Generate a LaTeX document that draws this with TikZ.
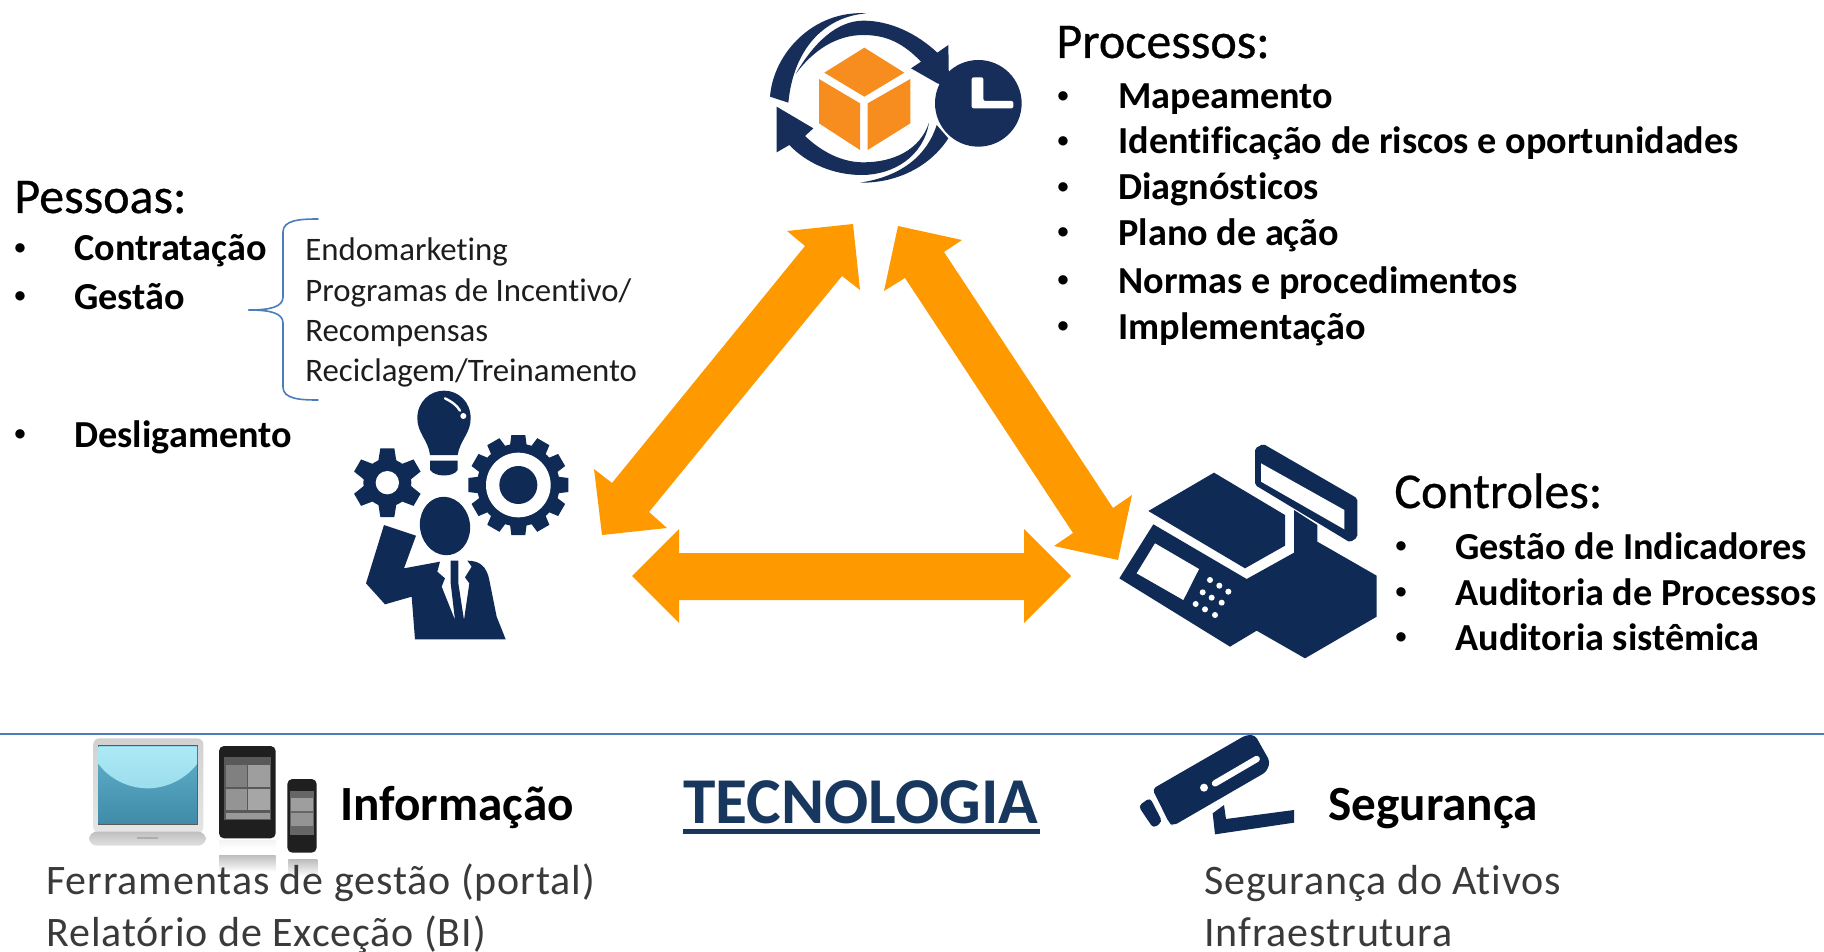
\documentclass[tikz,border=0pt]{standalone}
\usepackage{fontspec}
\setmainfont{Carlito}[Ligatures=NoCommon]
\definecolor{orangeA}{HTML}{FF9900}
\definecolor{navyA}{HTML}{0F2B55}
\definecolor{navyB}{HTML}{172E5A}
\definecolor{boxO}{HTML}{F78D1F}
\definecolor{lineB}{HTML}{4A7EBB}
\definecolor{titleB}{HTML}{17375E}
\definecolor{textG}{HTML}{3A3A3A}
\definecolor{scrTop}{HTML}{62B2CB}
\definecolor{scrBot}{HTML}{3F8BA8}
\definecolor{scrLight}{HTML}{ABE9F5}
\tikzset{
  head/.style={anchor=base west,inner sep=0pt,yshift=-0.5pt,font=\fontsize{25}{28}\selectfont\addfontfeatures{FakeBold=0.6}},
  item/.style={anchor=base west,inner sep=0pt,yshift=-1pt,font=\fontsize{19.1}{22}\selectfont\bfseries},
  dot/.style={anchor=base,inner sep=0pt,yshift=2.4pt,font=\fontsize{11}{14}\selectfont\bfseries},
  subitem/.style={anchor=base west,inner sep=0pt,yshift=-0.5pt,font=\fontsize{16.4}{20}\selectfont,text=textG!50!black},
  techhead/.style={anchor=base west,inner sep=0pt,yshift=-1pt,font=\fontsize{24.6}{28}\selectfont\bfseries},
  body/.style={anchor=base west,inner sep=0pt,yshift=-1.3pt,font=\fontsize{21}{24}\selectfont\addfontfeatures{LetterSpace=2.1},text=textG},
  bigarrow/.style={fill=orangeA,draw=none},
}
\begin{document}
\begin{tikzpicture}[x=0.5pt,y=-0.5pt]
\useasboundingbox (0,0) rectangle (1824,952);
\fill[white] (0,0) rectangle (1824,952);
\clip (0,0) rectangle (1824,952);

% big arrows
\fill[bigarrow] (853,224)--(860,290)--(842,276)--(649,512)--(667,528)--(602,535)--(594,469)--(612,483)--(805,246)--(787,231)--cycle;
\fill[bigarrow] (632,576)--(679,529)--(679,553)--(1024,553)--(1024,529)--(1071,576)--(1024,623)--(1024,600)--(679,600)--(679,623)--cycle;
\fill[bigarrow] (898,226)--(962,240)--(944,252)--(1113,508)--(1132,495)--(1118,560)--(1054,546)--(1073,533)--(905,278)--(884,291)--cycle;

% separator line
\draw[lineB,line width=1.2pt] (0,734)--(1824,734);

% process icon
\begin{scope}[shift={(730,0)},scale=1/3]
  \fill[boxO] (403,143)--(523,218)--(403,290)--(283,218)--cycle;
  \fill[boxO] (267,237)--(390,310)--(390,450)--(267,370)--cycle;
  \fill[boxO] (413,310)--(541,237)--(541,370)--(413,450)--cycle;
  \fill[navyB] (197,222) .. controls (250,130) and (320,62) .. (400,62) .. controls (480,62) and (560,100) .. (622,158) -- (655,135) -- (657,260) -- (622,250) -- (543,205) -- (573,185) .. controls (520,130) and (470,105) .. (400,105) .. controls (320,105) and (250,150) .. (197,222) -- cycle;
  \fill[navyB] (120,290) .. controls (130,160) and (250,30) .. (410,40) .. controls (280,50) and (190,150) .. (175,308) -- cycle;
  \fill[navyB] (140,320)--(250,385)--(225,408) .. controls (280,460) and (340,487) .. (400,487) .. controls (490,487) and (570,450) .. (597,368) .. controls (580,470) and (490,525) .. (395,525) .. controls (310,525) and (230,490) .. (178,435) -- (140,457) -- cycle;
  \fill[navyB] (390,548) .. controls (500,550) and (600,500) .. (655,415) -- (620,375) .. controls (590,470) and (510,530) .. (390,548) -- cycle;
  \fill[navyB] (745,310) circle (130);
  \fill[white,rounded corners=1pt] (725,232)--(760,232)--(760,303)--(850,303)--(850,325)--(725,325)--cycle;
\end{scope}

% person icon
\begin{scope}[shift={(330,370)},scale=1/3]
  % bulb
  \fill[navyA] (300,255) .. controls (295,210) and (262,190) .. (262,145) .. controls (262,95) and (300,62) .. (342,62) .. controls (385,62) and (422,95) .. (422,145) .. controls (422,190) and (390,210) .. (383,255) -- cycle;
  \fill[navyA] (300,272)--(383,272)--(383,300) .. controls (370,322) and (315,322) .. (300,300) -- cycle;
  \draw[white,line width=1.2pt,line cap=round] (345,85) .. controls (365,95) and (380,105) .. (390,122);
  \fill[white] (400,138) circle (9);
  % small gear
  \begin{scope}[shift={(172,338)}]
    \foreach \a in {0,60,...,300} \fill[navyA,rotate=\a] (-21,-103)--(21,-103)--(27,-65)--(-27,-65)--cycle;
    \fill[navyA] (0,0) circle (72);
    \fill[white] (0,0) circle (35);
  \end{scope}
  % big gear
  \begin{scope}[shift={(565,345)}]
    \foreach \a in {0,30,...,330} \fill[navyA,rotate=\a] (-21,-150)--(21,-150)--(25,-118)--(-25,-118)--cycle;
    \fill[navyA] (0,0) circle (124);
    \fill[white] (0,0) circle (97);
    \fill[navyA] (0,0) circle (57);
  \end{scope}
  % man
  \fill[navyA] (345,468) ellipse [x radius=75,y radius=88,rotate=10];
  \fill[navyA] (162,465)--(258,497)--(222,595)--(330,575)--(322,605)--(345,625)--(335,650)--(375,750)--(362,640)--(362,572)--(385,572)--(385,640)--(402,750)--(418,640)--(405,622)--(425,590)--(412,572) .. controls (450,572) and (470,590) .. (478,630) -- (500,740) -- (527,808) -- (255,808) -- (245,680) -- (165,703) -- (108,640) -- cycle;
\end{scope}

% cash register icon
\begin{scope}[shift={(1100,430)},scale=1/3]
  \fill[navyA,rounded corners=1pt] (490,42)--(772,205)--(772,322)--(750,337)--(465,165)--(465,55)--cycle;
  \fill[white] (483,100)--(733,240)--(733,298)--(483,155)--cycle;
  \fill[navyA] (582,240)--(582,368)--(440,447)--(160,283)--(58,445)--(390,650)--(470,602)--(615,685)--(830,560)--(830,437)--(652,335)--(652,285)--cycle;
  \fill[navyA] (342,128)--(555,255)--(555,347)--(435,415)--(145,243)--cycle;
  \fill[white] (165,340)--(297,417)--(250,510)--(110,430)--cycle;
  \foreach \p in {(330,450),(358,467),(385,485),(308,487),(335,503),(365,518),(287,522),(315,538),(345,555)}
    \fill[white] \p circle (9);
\end{scope}

% camera icon
\begin{scope}[shift={(1120,720)},scale=1/3]
  \fill[navyA,rounded corners=2pt] (97,207)--(378,45)--(405,45)--(450,125)--(440,155)--(160,317)--(148,310)--cycle;
  \draw[white,line width=3.2pt,line cap=round] (285,190)--(410,117);
  \fill[white] (252,203) circle (12);
  \fill[navyA,rounded corners=2pt] (55,258)--(90,233)--(127,305)--(100,325)--cycle;
  \fill[navyA] (278,280)--(312,255)--(318,297)--(522,270)--(522,308)--(285,343)--cycle;
\end{scope}

% devices
\begin{scope}[shift={(70,720)},scale=1/3]
  \shade[top color=black!18,bottom color=black!10,rounded corners=3pt] (70,55) rectangle (400,340);
  \fill[black!65] (83,76) rectangle (384,314);
  \shade[top color=scrTop,bottom color=scrBot] (86,79) rectangle (381,311);
  \shade[top color=scrLight,bottom color=scrLight!80!scrTop] (86,79)--(381,79)--(381,132) .. controls (340,185) and (280,205) .. (233,205) .. controls (180,205) and (120,180) .. (86,132) -- cycle;
  \shade[top color=black!25,bottom color=black!12,rounded corners=4pt] (57,335) rectangle (408,377);
  \fill[black!32] (200,350) rectangle (265,356);
  % tablet
  \fill[black!88,rounded corners=2.5pt] (447,78) rectangle (617,355);
  \fill[black!65] (463,112) rectangle (603,300);
  \fill[black!50] (468,135) rectangle (530,200);
  \fill[black!38] (535,135) rectangle (600,200);
  \fill[black!42] (468,208) rectangle (530,270);
  \fill[black!35] (535,208) rectangle (600,270);
  \fill[black!40] (468,278) rectangle (600,298);
  \shade[top color=black!26,bottom color=white] (447,405) rectangle (617,455);
  \shade[top color=black!5,bottom color=white] (447,360) rectangle (617,385);
  % phone
  \fill[black!88,rounded corners=2.5pt] (652,177) rectangle (740,398);
  \fill[black!60] (660,212) rectangle (733,345);
  \fill[black!38] (664,235) rectangle (730,272);
  \fill[black!42] (664,278) rectangle (730,318);
  \shade[top color=black!26,bottom color=white] (655,418) rectangle (742,470);
\end{scope}

% brace
\draw[lineB,line width=0.8pt,line cap=round] (318,219) .. controls (300,219) and (283,220) .. (283,232) -- (283,297) .. controls (283,307) and (270,310) .. (249,310);
\draw[lineB,line width=0.8pt,line cap=round] (318,400) .. controls (300,400) and (283,399) .. (283,387) -- (283,323) .. controls (283,313) and (270,310) .. (249,310);

% Pessoas
\node[head] (pT) at (14,212) {Pessoas:};
\node[dot] (pb1) at (20,259) {•};
\node[item] (p1) at (74,259) {Contratação};
\node[dot] (pb2) at (20,307) {•};
\node[item] (p2) at (74,307) {Gestão};
\node[dot] (pb3) at (20,445) {•};
\node[item] (p3) at (74,445) {Desligamento};
\node[subitem] (s1) at (305,260) {Endomarketing};
\node[subitem] (s2) at (305,300) {Programas de Incentivo/};
\node[subitem] (s3) at (305,340) {Recompensas};
\node[subitem] (s4) at (305,380) {Reciclagem/Treinamento};

% Processos
\node[head] (rT) at (1056,57) {Processos:};
\node[dot] (rb1) at (1063,107) {•};
\node[item] (r1) at (1118,107) {Mapeamento};
\node[dot] (rb2) at (1063,152) {•};
\node[item] (r2) at (1118,152) {Identificação de riscos e oportunidades};
\node[dot] (rb3) at (1063,198) {•};
\node[item] (r3) at (1118,198) {Diagnósticos};
\node[dot] (rb4) at (1063,243) {•};
\node[item] (r4) at (1118,243) {Plano de ação};
\node[dot] (rb5) at (1063,291) {•};
\node[item] (r5) at (1118,291) {Normas e procedimentos};
\node[dot] (rb6) at (1063,337) {•};
\node[item] (r6) at (1118,337) {Implementação};

% Controles
\node[head] (cT) at (1394,507) {Controles:};
\node[dot] (cb1) at (1401,557) {•};
\node[item] (c1) at (1455,557) {Gestão de Indicadores};
\node[dot] (cb2) at (1401,603) {•};
\node[item] (c2) at (1455,603) {Auditoria de Processos};
\node[dot] (cb3) at (1401,648) {•};
\node[item] (c3) at (1455,648) {Auditoria sistêmica};

% Technology
\node[techhead] (inf) at (340,818) {Informação};
\node[techhead] (seg) at (1328,818) {Segurança};
\node[anchor=base west,inner sep=0pt,yshift=-0.5pt,font=\fontsize{32.7}{36}\selectfont\bfseries,text=titleB] (tec) at (683,822) {TECNOLOGIA};
\fill[titleB] (683,829) rectangle (1040,834);
\node[body] (b1) at (46,892) {Ferramentas de gestão (portal)};
\node[body] (b2) at (46,944) {Relatório de Exceção (BI)};
\node[body] (b3) at (1204,892) {Segurança do Ativos};
\node[body] (b4) at (1204,944) {Infraestrutura};
\end{tikzpicture}
\end{document}
